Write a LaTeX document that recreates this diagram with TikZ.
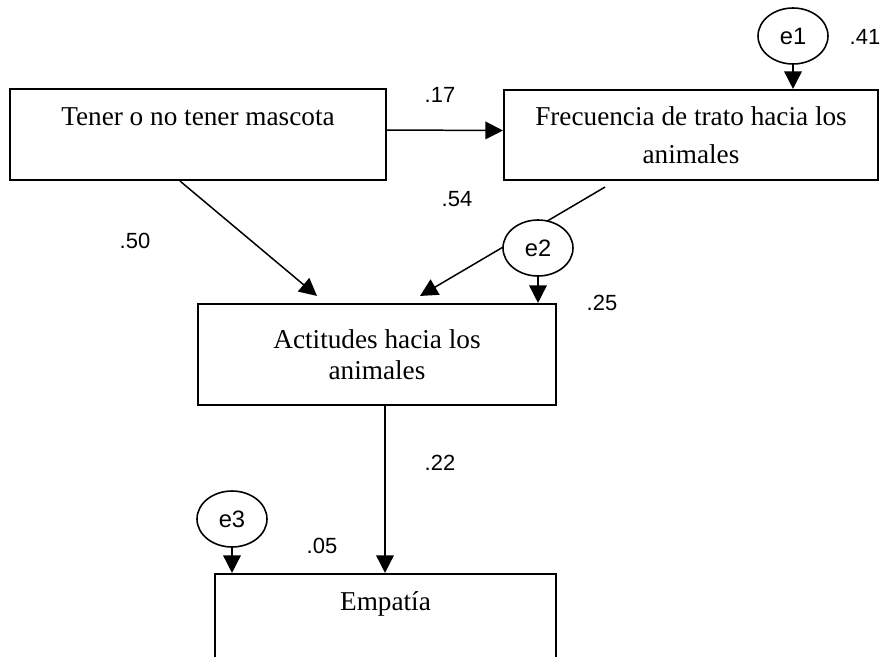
\documentclass[tikz,border=0pt]{standalone}
\usepackage{fontspec}
\setmainfont{Liberation Serif}
\setsansfont{Liberation Sans}
\usetikzlibrary{shapes,arrows.meta,positioning}
\tikzstyle{block} = [rectangle, draw, line width=1.2pt, align=center,
    inner sep=0pt, font=\fontsize{15.5}{18}\selectfont]
\tikzstyle{err} = [draw, ellipse, fill=white, line width=0.9pt, inner sep=0pt,
    minimum width=1.4cm, minimum height=1.12cm, font=\sffamily\fontsize{13.5}{15}\selectfont]
\tikzstyle{line} = [draw, line width=0.85pt, -{Triangle[length=10pt,width=10pt]}]
\tikzstyle{coef} = [font=\sffamily\fontsize{12.5}{15}\selectfont, inner sep=0pt]

\begin{document}
\begin{tikzpicture}[x=0.02cm, y=-0.02cm]
	\useasboundingbox (0,0) rectangle (882,656);
	% Place boxes
	\node [block, minimum width=7.52cm, minimum height=1.82cm] (mascota) at (198,134.5) {\strut Tener o no tener mascota\\ \strut};
	\node [block, minimum width=7.48cm, minimum height=1.8cm, font=\fontsize{15.5}{21.5}\selectfont] (frecuencia) at (691,135) {Frecuencia de trato hacia los\\ animales};
	\node [block, minimum width=7.16cm, minimum height=2.02cm] (actitudes) at (377,354.5) {Actitudes hacia los\\ animales};
	\node [block, minimum width=6.82cm, minimum height=1.82cm] (empatia) at (385.5,619.5) {\strut Empatía\\ \strut};
	% Path behind e2
	\path [line] ([xshift=-1.72cm, yshift=-0.12cm]frecuencia.south) -- ([xshift=0.86cm, yshift=0.14cm]actitudes.north);
	% Error terms
	\node [err] (e1) at (793,36) {e1};
	\node [err] (e2) at (538,248) {e2};
	\node [err] (e3) at (232,519) {e3};
	% Draw edges
	\path [line] ([yshift=0.09cm]mascota.east) -- ([yshift=0.09cm]frecuencia.west);
	\path [line] ([xshift=-0.36cm]mascota.south) -- ([xshift=-1.2cm, yshift=0.14cm]actitudes.north);
	\path [line] ([xshift=0.16cm]actitudes.south) -- ([xshift=0.16cm]actitudes.south |- empatia.north);
	\path [line] (e1.south) -- (e1.south |- frecuencia.north);
	\path [line] (e2.south) -- (e2.south |- actitudes.north);
	\path [line] (e3.south) -- (e3.south |- empatia.north);
	% Coefficients
	\node [coef] (c17) at (440,95) {.17};
	\node [coef] (c41) at (865,37) {.41};
	\node [coef] (c54) at (457,199) {.54};
	\node [coef] (c50) at (135,241) {.50};
	\node [coef] (c25) at (602,303) {.25};
	\node [coef] (c22) at (440,463) {.22};
	\node [coef] (c05) at (322,546) {.05};
\end{tikzpicture}
\end{document}
